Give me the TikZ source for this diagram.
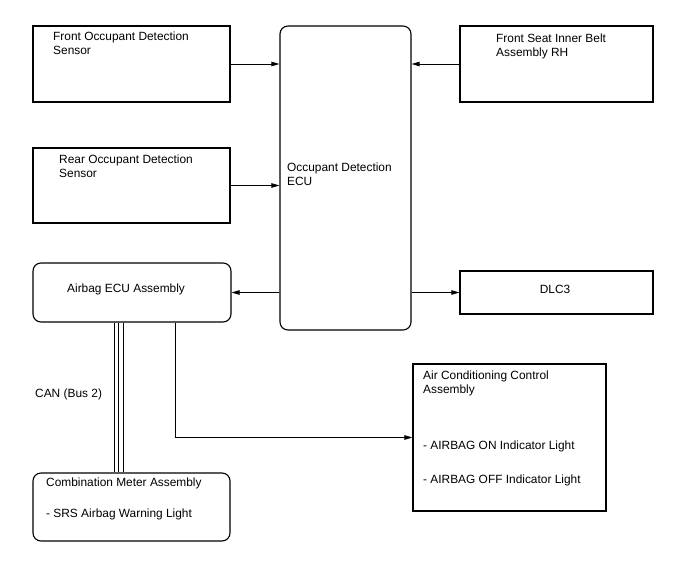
\documentclass[tikz,border=0pt]{standalone}
\usepackage{fontspec}
\setmainfont{Liberation Sans}
\usetikzlibrary{arrows.meta}
\begin{document}
\begin{tikzpicture}[x=1pt,y=-1pt,
  box/.style={draw, line width=1.1pt, inner sep=0pt, minimum width=#1},
  rbox/.style={box=#1, rounded corners=8pt},
  lbl/.style={anchor=base west, inner sep=0pt, font=\fontsize{11.9}{14}\selectfont},
  conn/.style={line width=0.9pt, -{Triangle[length=8pt,width=4.5pt]}},
  plain/.style={line width=0.9pt}]
\useasboundingbox (0,0) rectangle (688,560);
% boxes
\node[box=197pt, minimum height=76pt] (front) at (131.5,64) {};
\node[box=197pt, minimum height=75pt] (rear) at (131.5,185.5) {};
\node[rbox=131pt, minimum height=304pt] (ecu) at (345.5,178) {};
\node[box=193pt, minimum height=76pt] (seat) at (556.5,64) {};
\node[box=193pt, minimum height=43pt] (dlc) at (556.5,292.5) {};
\node[rbox=198pt, minimum height=59pt] (airbag) at (132,292.5) {};
\node[rbox=197pt, minimum height=68pt] (comb) at (131.5,507) {};
\node[box=193pt, minimum height=147pt] (ac) at (509.5,437.5) {};
% texts
\node[lbl] (t1) at (53,40.5) {Front Occupant Detection};
\node[lbl] (t2) at (53,54.5) {Sensor};
\node[lbl] (t3) at (59,163) {Rear Occupant Detection};
\node[lbl] (t4) at (59,177) {Sensor};
\node[lbl] (t5) at (496,42) {Front Seat Inner Belt};
\node[lbl] (t6) at (496,56) {Assembly RH};
\node[lbl] (t7) at (287,171) {Occupant Detection};
\node[lbl] (t8) at (287,185) {ECU};
\node[lbl, anchor=base] (t9) at (555,293) {DLC3};
\node[lbl] (t10) at (67,292) {Airbag ECU Assembly};
\node[lbl] (t11) at (35,397) {CAN (Bus 2)};
\node[lbl] (t12) at (46,486) {Combination Meter Assembly};
\node[lbl] (t13) at (46,517) {- SRS Airbag Warning Light};
\node[lbl] (t14) at (423,379) {Air Conditioning Control};
\node[lbl] (t15) at (423,393) {Assembly};
\node[lbl] (t16) at (423,449) {- AIRBAG ON Indicator Light};
\node[lbl] (t17) at (423,483) {- AIRBAG OFF Indicator Light};
% connectors
\draw[conn] (front.east) -- (front.east -| ecu.west);
\draw[conn] (rear.east) -- (rear.east -| ecu.west);
\draw[conn] (seat.west) -- (seat.west -| ecu.east);
\draw[conn] (dlc.west -| ecu.east) -- (dlc.west);
\draw[conn] (airbag.east -| ecu.west) -- (airbag.east);
\coordinate (abs) at ([xshift=43pt]airbag.south);
\draw[conn] (abs) |- (ac.west);
\foreach \dx in {-18,-13.5,-9}{
  \draw[plain] ([xshift=\dx pt]airbag.south) -- ([xshift=\dx pt]airbag.south |- comb.north);
}
\end{tikzpicture}
\end{document}
